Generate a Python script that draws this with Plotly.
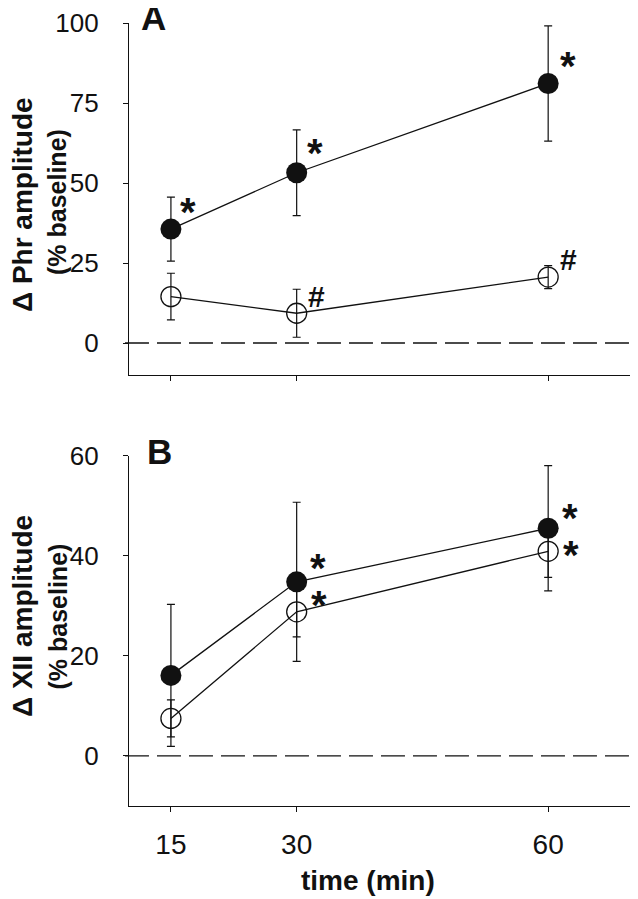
import plotly.graph_objects as go

# ---------------- data ----------------
time_min = [15, 30, 60]

phr_filled = [35.6, 53.2, 81.1]
phr_filled_err = [10.0, 13.4, 18.0]
phr_open = [14.5, 9.3, 20.6]
phr_open_err = [7.3, 7.5, 3.6]

xii_filled = [16.1, 34.8, 45.5]
xii_filled_err = [14.2, 15.9, 12.5]
xii_open = [7.5, 28.8, 40.9]
xii_open_err = [3.7, 5.0, 5.2]

phr_ticks = [0, 25, 50, 75, 100]
xii_ticks = [0, 20, 40, 60]
time_ticks = [15, 30, 60]

# significance marks: (panel, series, time index, symbol)
sig_marks = [
    ("A", "filled", 0, "*"), ("A", "filled", 1, "*"), ("A", "filled", 2, "*"),
    ("A", "open", 1, "#"), ("A", "open", 2, "#"),
    ("B", "filled", 1, "*"), ("B", "open", 1, "*"),
    ("B", "filled", 2, "*"), ("B", "open", 2, "*"),
]
# pixel offsets of the marks from their data point (style)
sig_offsets = {
    ("A", "filled", 0): (17, 25), ("A", "filled", 1): (18, 28), ("A", "filled", 2): (19.5, 25),
    ("A", "open", 1): (20, 17), ("A", "open", 2): (20, 18),
    ("B", "filled", 1): (21, 22), ("B", "open", 1): (22, 15),
    ("B", "filled", 2): (22, 18), ("B", "open", 2): (23, 4),
}

FONT = "Liberation Sans, Arial, Helvetica, sans-serif"
INK = "#111111"

# the HTML page body has an 8px margin: the figure starts at (8, 8) in the window
OFF = 8
W, H = 638 - OFF, 899 - OFF
ML, MR, MT, MB = 129 - OFF, 6, 23 - OFF, 93
PW, PH = W - ML - MR, H - MT - MB


def px_x(px):
    """window pixel -> paper fraction"""
    return (px - OFF - ML) / PW


def px_y(py):
    """window pixel -> paper fraction"""
    return (H - MB - (py - OFF)) / PH


fig = go.Figure()

series = {
    ("A", "open"): (phr_open, phr_open_err),
    ("A", "filled"): (phr_filled, phr_filled_err),
    ("B", "open"): (xii_open, xii_open_err),
    ("B", "filled"): (xii_filled, xii_filled_err),
}
axes = {"A": ("x", "y"), "B": ("x2", "y2")}

for (panel, kind), (vals, errs) in series.items():
    xa, ya = axes[panel]
    if kind == "filled":
        marker = dict(symbol="circle", size=21, color=INK, line=dict(width=0))
    else:
        marker = dict(symbol="circle-open", size=20, color=INK, line=dict(width=1.3, color=INK))
    fig.add_trace(go.Scatter(
        x=time_min, y=vals, xaxis=xa, yaxis=ya,
        mode="lines+markers",
        line=dict(color=INK, width=1.3),
        marker=marker,
        error_y=dict(type="data", array=errs, visible=True, color=INK, thickness=1.2, width=4),
        showlegend=False, cliponaxis=False,
    ))

# zero dashed lines
for panel in ("A", "B"):
    xa, ya = axes[panel]
    fig.add_shape(type="line", xref="paper", yref=ya, x0=-0.008, x1=1.0, y0=0, y1=0,
                  line=dict(color=INK, width=1.3, dash="24px,8px"))

annotations = []
# significance marks
for panel, kind, i, sym in sig_marks:
    vals = series[(panel, kind)][0]
    xa, ya = axes[panel]
    dx, dy = sig_offsets[(panel, kind, i)]
    fs = 40 if sym == "*" else 30
    corr = -0.2 * fs if sym == "*" else 0
    annotations.append(dict(
        x=time_min[i], y=vals[i], xref=xa, yref=ya, text="<b>" + sym + "</b>", showarrow=False,
        xshift=dx, yshift=dy + corr, xanchor="center", yanchor="middle",
        font=dict(family=FONT, size=fs, color=INK),
    ))

# panel letters
annotations.append(dict(x=px_x(153), y=px_y(17.5), xref="paper", yref="paper", text="<b>A</b>",
                        showarrow=False, xanchor="center", yanchor="middle",
                        font=dict(family=FONT, size=35, color=INK)))
annotations.append(dict(x=px_x(159), y=px_y(451.5), xref="paper", yref="paper", text="<b>B</b>",
                        showarrow=False, xanchor="center", yanchor="middle",
                        font=dict(family=FONT, size=35, color=INK)))

# axis titles
titles = [
    ("Δ Phr amplitude", 22, 205, 28),
    ("(% baseline)", 57, 202, 25),
    ("Δ XII amplitude", 22, 616, 28),
    ("(% baseline)", 57, 616.5, 25),
]
for txt, cx, cy, fs in titles:
    annotations.append(dict(x=px_x(cx), y=px_y(cy), xref="paper", yref="paper", text="<b>" + txt + "</b>",
                            showarrow=False, textangle=-90, xanchor="center", yanchor="middle",
                            font=dict(family=FONT, size=fs, color=INK)))
annotations.append(dict(x=px_x(367.5), y=px_y(880), xref="paper", yref="paper", text="<b>time (min)</b>",
                        showarrow=False, xanchor="center", yanchor="middle",
                        font=dict(family=FONT, size=28, color=INK)))

common_x = dict(range=[10, 70], tickvals=time_ticks, ticks="outside", ticklen=5, tickwidth=1.2,
                tickcolor=INK, showline=True, linewidth=1.3, linecolor=INK, showgrid=False,
                zeroline=False, domain=[0, 1])
common_y = dict(ticks="outside", ticklen=5, tickwidth=1.2, tickcolor=INK, showline=True,
                linewidth=1.3, linecolor=INK, showgrid=False, zeroline=False,
                tickfont=dict(family=FONT, size=26, color=INK), ticklabelstandoff=19)

fig.update_layout(
    width=W, height=H,
    margin=dict(l=ML, r=MR, t=MT, b=MB, autoexpand=False),
    paper_bgcolor="white", plot_bgcolor="white",
    font=dict(family=FONT, color=INK),
    xaxis=dict(**common_x, anchor="y", showticklabels=False),
    xaxis2=dict(**common_x, anchor="y2", showticklabels=True,
                tickfont=dict(family=FONT, size=28, color=INK), ticklabelstandoff=8),
    yaxis=dict(**common_y, range=[-10, 100], tickvals=phr_ticks, anchor="x",
               domain=[px_y(375), 1]),
    yaxis2=dict(**common_y, range=[-10, 60], tickvals=xii_ticks, anchor="x2",
                domain=[0, px_y(455.7)]),
    annotations=annotations,
    showlegend=False,
)

fig.write_html("out.html")
